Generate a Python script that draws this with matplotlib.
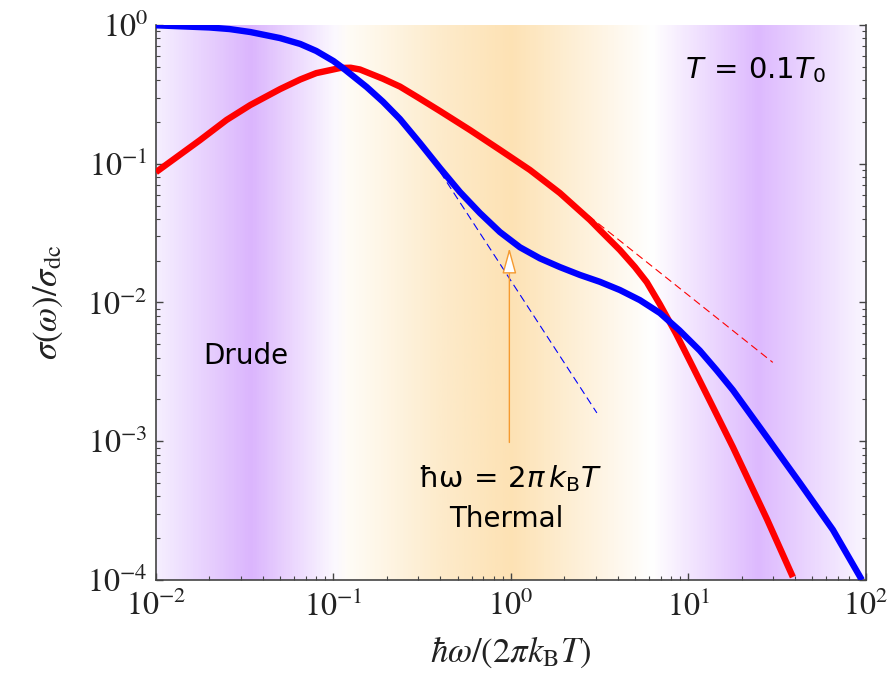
import numpy as np
import matplotlib
matplotlib.use('Agg')
import matplotlib.pyplot as plt
from matplotlib.colors import LinearSegmentedColormap

plt.rcParams['font.family'] = 'STIXGeneral'
plt.rcParams['mathtext.fontset'] = 'stix'

# conductivity curves
blue_x = [0.01, 0.02, 0.026, 0.034, 0.05, 0.065, 0.08, 0.10, 0.113, 0.154, 0.19, 0.237,
          0.307, 0.398, 0.516, 0.668, 0.867, 1.124, 1.457, 1.888, 2.447, 3.17,
          4.11, 5.33, 6.91, 8.9, 11.6, 14.4, 17.8, 27.7, 42.5, 65.2, 95]
blue_y = [0.995, 0.96, 0.935, 0.89, 0.805, 0.73, 0.65, 0.55, 0.49, 0.357, 0.28, 0.21,
          0.141, 0.0932, 0.0626, 0.0442, 0.0322, 0.0250, 0.0208, 0.018, 0.0158, 0.0141,
          0.0123, 0.0104, 0.0084, 0.0063, 0.0045, 0.00326, 0.00234, 0.00107, 5.0e-4,
          2.3e-4, 1.0e-4]

red_x = [0.01, 0.0177, 0.025, 0.034, 0.05, 0.065, 0.08, 0.109, 0.125, 0.141, 0.19,
         0.237, 0.30, 0.398, 0.588, 0.867, 1.28, 1.888, 2.79, 3.17, 4.11, 5.0, 5.83,
         6.91, 8.5, 10.6, 13.5, 17.8, 27.7, 38.8]
red_y = [0.087, 0.148, 0.207, 0.265, 0.345, 0.405, 0.45, 0.49, 0.492, 0.478, 0.41,
         0.36, 0.30, 0.24, 0.175, 0.126, 0.0902, 0.0615, 0.0393, 0.0333, 0.0239, 0.018,
         0.014, 0.0097, 0.006, 0.00343, 0.00185, 9.1e-4, 2.75e-4, 1.05e-4]

# asymptotes (dashed)
blue_tan_x = [0.40, 3.05]
blue_tan_y = [0.087, 1.6e-3]
red_tan_x = [1.89, 29.9]
red_tan_y = [0.0615, 3.7e-3]

# thermal arrow at hbar*omega = 2 pi kB T
arrow_x = 0.98
arrow_y0 = 0.00098
arrow_y1 = 0.0247

# background colour bands (axes fraction along log x, colour)
band_pos = [0.0, 0.132, 0.25, 0.27, 0.40, 0.50, 0.70, 0.85, 1.0]
band_colors = ['#f5eeff', '#dbb5fd', '#fbf8ff', '#fffcf6', '#fdebcb', '#fde2b4',
               '#ffffff', '#ddb9fe', '#f9f5ff']

fig = plt.figure(figsize=(8.94, 6.74), dpi=100)
ax = fig.add_axes([0.1745, 0.1395, 0.794, 0.8234])

cmap = LinearSegmentedColormap.from_list('bands', list(zip(band_pos, band_colors)))
grad = np.linspace(0, 1, 600)[None, :]
ax.imshow(grad, cmap=cmap, aspect='auto', extent=[0, 1, 0, 1],
          transform=ax.transAxes, zorder=0, interpolation='bilinear')

ax.set_xscale('log')
ax.set_yscale('log')

ax.plot(red_x, red_y, color='#ff0000', lw=4.6, zorder=3,
        solid_joinstyle='round', solid_capstyle='butt')
ax.plot(blue_x, blue_y, color='#0000ff', lw=4.6, zorder=4,
        solid_joinstyle='round', solid_capstyle='butt')
ax.plot(blue_tan_x, blue_tan_y, color='#0000ff', lw=0.8, dashes=(7, 4), zorder=2)
ax.plot(red_tan_x, red_tan_y, color='#ff0000', lw=0.8, dashes=(7, 4), zorder=2)

ax.annotate('', xy=(arrow_x, arrow_y1), xytext=(arrow_x, arrow_y0),
            arrowprops=dict(arrowstyle='-|>,head_length=0.8,head_width=0.22',
                            fc='white', ec='#f59a30', lw=1.0, mutation_scale=20,
                            shrinkA=0, shrinkB=0), zorder=5)

ax.set_xlim(1e-2, 1e2)
ax.set_ylim(1e-4, 1)

# annotations
ax.text(0.844, 0.919, r'$T\,=\,0.1T_0$', transform=ax.transAxes, ha='center',
        va='center', fontsize=21, math_fontfamily='dejavusans')
ax.text(0.127, 0.404, 'Drude', transform=ax.transAxes, ha='center', va='center',
        fontsize=20, family='DejaVu Sans')
ax.text(0.499, 0.182, r'$\mathrm{ħω}\,=\,2π\,k_{\mathrm{B}}T$', transform=ax.transAxes,
        ha='center', va='center', fontsize=21, math_fontfamily='dejavusans')
ax.text(0.493, 0.110, 'Thermal', transform=ax.transAxes, ha='center', va='center',
        fontsize=20, family='DejaVu Sans')

ax.set_xlabel(r'$\hbar\omega/(2\pi k_{\mathrm{B}}T)$', fontsize=25, color='#222222', labelpad=8)
ax.set_ylabel(r'$\sigma(\omega)/\sigma_{\mathrm{dc}}$', fontsize=25, color='#222222', labelpad=16)

ax.spines['top'].set_visible(False)
for s in ['left', 'right', 'bottom']:
    ax.spines[s].set_color('#444444')
    ax.spines[s].set_linewidth(1.2)

ax.tick_params(which='both', direction='in', left=True, right=True, bottom=True, top=False,
               color='#444444', labelsize=23, labelcolor='#222222')
ax.tick_params(which='major', length=5, width=1)
ax.tick_params(which='minor', length=3, width=0.8)
ax.tick_params(axis='y', which='major', pad=6)
ax.tick_params(axis='x', which='major', pad=8)

plt.savefig('out.png', dpi=100)
